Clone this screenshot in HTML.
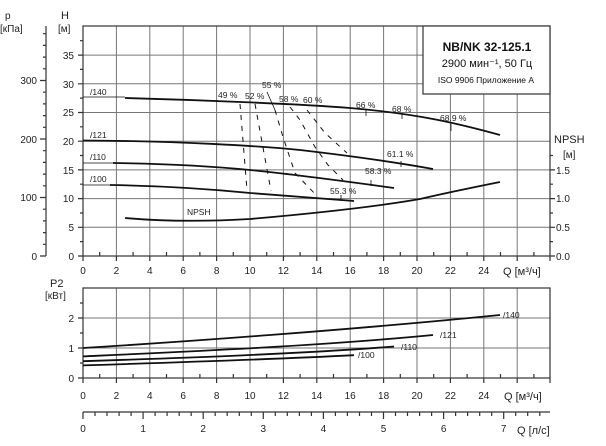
<!DOCTYPE html>
<html><head><meta charset="utf-8"><style>
body{margin:0;background:#fff}
svg{display:block;font-family:"Liberation Sans",sans-serif}
</style></head><body>
<svg width="606" height="446" viewBox="0 0 606 446" xmlns="http://www.w3.org/2000/svg">
<g stroke="#777" stroke-width="1" fill="none">
<path d="M116.4 26V256M149.8 26V256M183.2 26V256M216.6 26V256M250 26V256M283.4 26V256M316.8 26V256M350.2 26V256M383.6 26V256M417 26V256M450.4 26V256M483.8 26V256M517.2 26V256"/>
<path d="M83 227.3H550M83 198.6H550M83 169.9H550M83 141.2H550M83 112.5H550M83 83.8H550M83 55.1H550"/>
<path d="M116.4 288V378M149.8 288V378M183.2 288V378M216.6 288V378M250 288V378M283.4 288V378M316.8 288V378M350.2 288V378M383.6 288V378M417 288V378M450.4 288V378M483.8 288V378M517.2 288V378"/>
<path d="M83 348H550M83 318H550"/>
</g>
<g stroke="#333" stroke-width="1.2" fill="none">
<rect x="83" y="26" width="467" height="230"/>
<rect x="83" y="288" width="467" height="90"/>
<path d="M46 26V256M46 256H40M46 197.5H40M46 139H40M46 80.5H40"/>
<path d="M46 244.3h-3M46 232.6h-3M46 220.9h-3M46 209.2h-3M46 185.8h-3M46 174.1h-3M46 162.4h-3M46 150.7h-3M46 127.3h-3M46 115.6h-3M46 103.9h-3M46 92.2h-3M46 68.8h-3M46 57.1h-3M46 45.4h-3M46 33.7h-3"/>
<path d="M83 241.6h-3M83 213h-3M83 184.2h-3M83 155.5h-3M83 126.8h-3M83 98.1h-3M83 69.4h-3M83 40.7h-3"/>
<path d="M83 256h-5M83 227.3h-5M83 198.6h-5M83 169.9h-5M83 141.2h-5M83 112.5h-5M83 83.8h-5M83 55.1h-5"/>
<path d="M550 256h5M550 227.3h5M550 198.6h5M550 169.9h5M550 241.6h3M550 213h3M550 184.2h3M550 155.5h3"/>
<path d="M99.7 256v-4M133.1 256v-4M166.5 256v-4M199.9 256v-4M233.3 256v-4M266.7 256v-4M300.1 256v-4M333.5 256v-4M366.9 256v-4M400.3 256v-4M433.7 256v-4M467.1 256v-4M500.5 256v-4M533.9 256v-4"/>
<path d="M83 256v5M116.4 256v5M149.8 256v5M183.2 256v5M216.6 256v5M250 256v5M283.4 256v5M316.8 256v5M350.2 256v5M383.6 256v5M417 256v5M450.4 256v5M483.8 256v5M517.2 256v5M550 256v5"/>
<path d="M83 378h-5M83 348h-5M83 318h-5M83 363h-3M83 333h-3M83 303h-3"/>
<path d="M99.7 378v-4M133.1 378v-4M166.5 378v-4M199.9 378v-4M233.3 378v-4M266.7 378v-4M300.1 378v-4M333.5 378v-4M366.9 378v-4M400.3 378v-4M433.7 378v-4M467.1 378v-4M500.5 378v-4M533.9 378v-4"/>
<path d="M83 378v5M116.4 378v5M149.8 378v5M183.2 378v5M216.6 378v5M250 378v5M283.4 378v5M316.8 378v5M350.2 378v5M383.6 378v5M417 378v5M450.4 378v5M483.8 378v5M517.2 378v5M550 378v5"/>
<path d="M83 412H550M83 412v7M143.1 412v7M203.2 412v7M263.3 412v7M323.4 412v7M383.5 412v7M443.6 412v7M503.7 412v7"/>
<path d="M95 412v4M107 412v4M119.1 412v4M131.1 412v4M155.1 412v4M167.1 412v4M179.2 412v4M191.2 412v4M215.2 412v4M227.2 412v4M239.3 412v4M251.3 412v4M275.3 412v4M287.3 412v4M299.4 412v4M311.4 412v4M335.4 412v4M347.4 412v4M359.5 412v4M371.5 412v4M395.5 412v4M407.5 412v4M419.6 412v4M431.6 412v4M455.6 412v4M467.6 412v4M479.7 412v4M491.7 412v4M515.7 412v4M527.7 412v4M539.8 412v4"/>
</g>
<rect x="423" y="26" width="127" height="68" fill="#fff" stroke="#333" stroke-width="1.2"/>
<g stroke="#111" stroke-width="1.8" fill="none">
<path d="M125 98 C200 100 300 104 350 108 C420 114 460 124 500 135"/>
<path d="M83 140.5 C180 141 260 146 300 150 C360 157 400 163 433 169"/>
<path d="M113 163 C180 164 230 168 250 170 C300 175 350 182 394 188"/>
<path d="M110 185 C170 186 220 190 250 193 C300 197 330 199 354 201"/>
<path d="M125 218 C160 221 200 222 250 219 C330 212 380 206 420 199 C450 192 480 186 500 182"/>
<path d="M83 348 C180 342 350 330 500 315"/>
<path d="M83 356.4 C180 352 320 346 433 335"/>
<path d="M83 361.2 C180 358 300 354 394 346.5"/>
<path d="M83 365.4 C160 363 280 359 354 355.2"/>
</g>
<g stroke="#111" stroke-width="0.8" fill="none">
<path d="M83 97H125M83 163H113M83 185H110"/>
</g>
<g stroke="#111" stroke-width="1" fill="none" stroke-dasharray="5,6">
<path d="M240 104L247 190"/>
<path d="M255 104L271 191"/>
<path d="M275 110L283 137L295 173L317 196"/>
<path d="M290 107L300 120L315 147L328 165L343 180"/>
<path d="M307 110L325 133L347 153"/>
</g>
<g stroke="#111" stroke-width="0.8" fill="none">
<path d="M267 92L275 110M366 110v6M402 113v6M451 124v7M401 161v6M371 180v6M341 195v6"/>
</g>
<g font-size="8.5" fill="#222">
<text x="90" y="95">/140</text><text x="90" y="138">/121</text><text x="90" y="160">/110</text><text x="90" y="182">/100</text>
<text x="187" y="215">NPSH</text>
<text x="218" y="98">49 %</text><text x="245" y="99">52 %</text><text x="262" y="88">55 %</text><text x="279" y="102">58 %</text><text x="303" y="103">60 %</text>
<text x="356" y="108">66 %</text><text x="392" y="112">68 %</text><text x="440" y="121">68.9 %</text>
<text x="387" y="157">61.1 %</text><text x="365" y="174">58.3 %</text><text x="330" y="194">55.3 %</text>
<text x="503" y="318">/140</text><text x="440" y="338">/121</text><text x="401" y="350">/110</text><text x="358" y="358">/100</text>
</g>
<g font-size="10" fill="#222">
<text x="5" y="19">p</text><text x="0" y="32">[кПа]</text><text x="61" y="19" font-size="11">H</text><text x="58" y="32">[м]</text>
<g text-anchor="end"><text x="37" y="260">0</text><text x="37" y="201">100</text><text x="37" y="143">200</text><text x="37" y="84">300</text>
<text x="74" y="260">0</text><text x="74" y="231">5</text><text x="74" y="202">10</text><text x="74" y="174">15</text><text x="74" y="145">20</text><text x="74" y="116">25</text><text x="74" y="88">30</text><text x="74" y="59">35</text>
<text x="74" y="382">0</text><text x="74" y="352">1</text><text x="74" y="322">2</text></g>
<text x="556" y="260">0.0</text><text x="556" y="231">0.5</text><text x="556" y="202">1.0</text><text x="556" y="174">1.5</text>
<text x="554" y="143" font-size="11">NPSH</text><text x="563" y="158">[м]</text>
<text x="50" y="287" font-size="11">P2</text><text x="45" y="299">[кВт]</text>
<g text-anchor="middle">
<text x="83" y="274">0</text><text x="116.4" y="274">2</text><text x="149.8" y="274">4</text><text x="183.2" y="274">6</text><text x="216.6" y="274">8</text><text x="250" y="274">10</text><text x="283.4" y="274">12</text><text x="316.8" y="274">14</text><text x="350.2" y="274">16</text><text x="383.6" y="274">18</text><text x="417" y="274">20</text><text x="450.4" y="274">22</text><text x="483.8" y="274">24</text>
<text x="83" y="399">0</text><text x="116.4" y="399">2</text><text x="149.8" y="399">4</text><text x="183.2" y="399">6</text><text x="216.6" y="399">8</text><text x="250" y="399">10</text><text x="283.4" y="399">12</text><text x="316.8" y="399">14</text><text x="350.2" y="399">16</text><text x="383.6" y="399">18</text><text x="417" y="399">20</text><text x="450.4" y="399">22</text><text x="483.8" y="399">24</text>
<text x="83" y="432">0</text><text x="143.1" y="432">1</text><text x="203.2" y="432">2</text><text x="263.3" y="432">3</text><text x="323.4" y="432">4</text><text x="383.5" y="432">5</text><text x="443.6" y="432">6</text><text x="503.7" y="432">7</text>
</g>
<text x="503" y="275" font-size="11">Q [м³/ч]</text>
<text x="504" y="400" font-size="11">Q [м³/ч]</text>
<text x="517" y="434" font-size="11">Q [л/с]</text>
</g>
<g fill="#111" text-anchor="middle">
<text x="487" y="51" font-size="12" font-weight="bold">NB/NK 32-125.1</text>
<text x="487" y="67" font-size="11">2900 мин⁻¹, 50 Гц</text>
<text x="486" y="83" font-size="8.5">ISO 9906 Приложение  A</text>
</g>
</svg>
</body></html>
